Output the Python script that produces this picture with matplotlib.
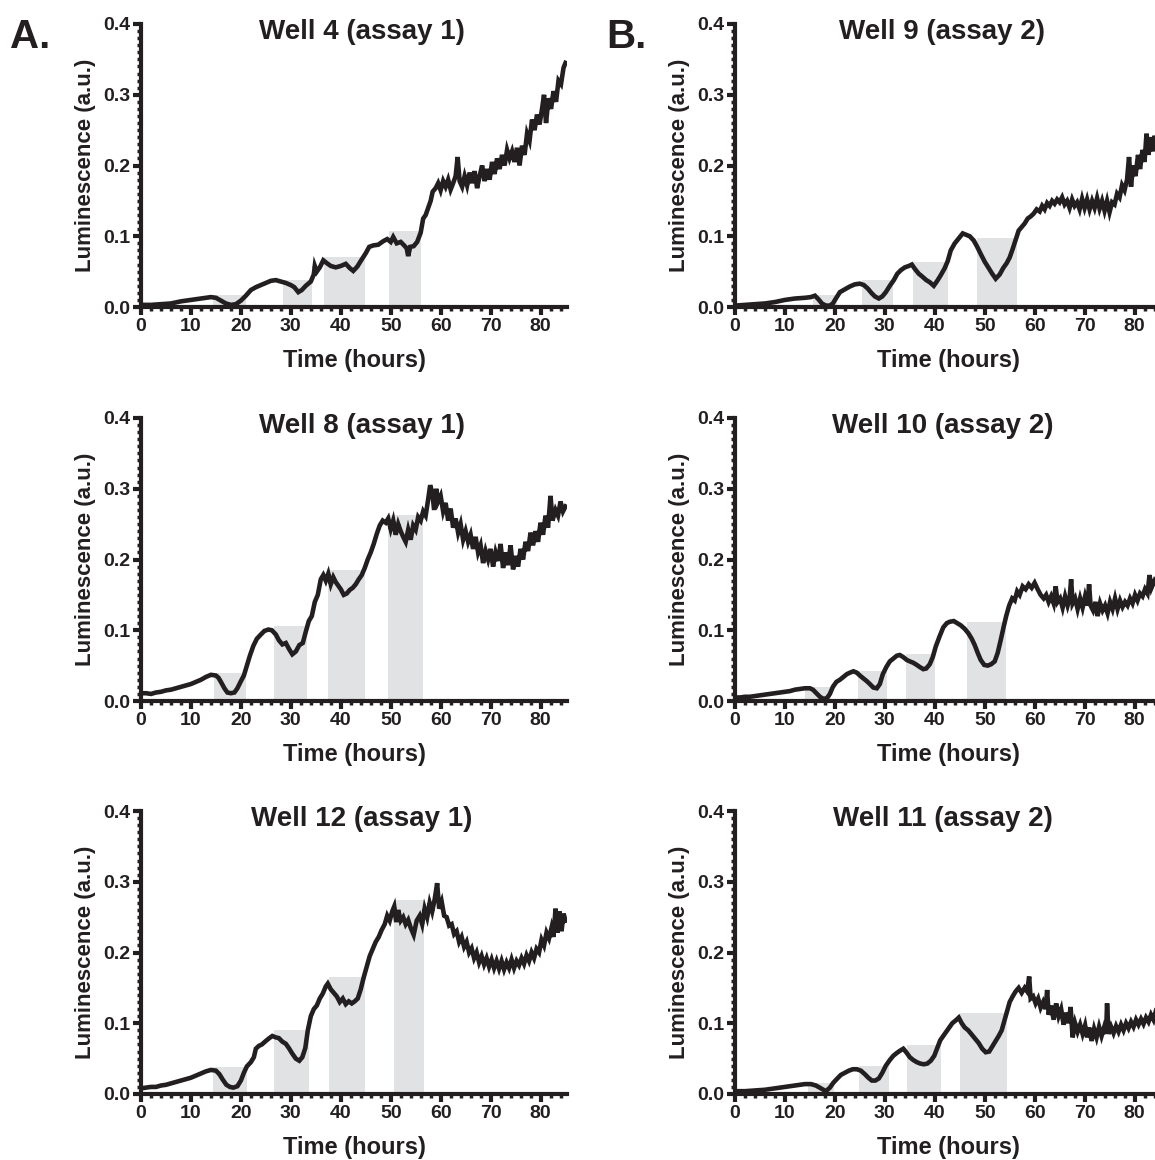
import matplotlib
matplotlib.use("Agg")
import matplotlib.pyplot as plt
from matplotlib.ticker import MultipleLocator, FormatStrFormatter

plt.rcParams['font.family'] = ['Liberation Sans', 'DejaVu Sans']
plt.rcParams['font.weight'] = 'bold'

INK = '#231f20'
GRAY = '#e1e2e4'

# ---------------- data ----------------
w4_t = [0, 2, 4, 6, 8, 10, 12, 14, 15, 16, 17, 18, 19, 20, 21, 22, 23, 24, 25, 26, 27, 28, 29, 30, 30.7, 31.5, 32.2, 33, 34, 34.6, 34.8, 35.2, 35.8, 36.5, 37.2, 38, 39, 40, 41, 41.8, 42.5, 43.3, 44, 45, 45.7, 46.5, 47.5, 48.5, 49.3, 50, 50.5, 51.2, 52, 52.7, 53.2, 53.5, 53.9, 54.6, 55.3, 56, 56.5, 57, 57.5, 58, 58.4, 59, 59.5, 60, 60.5, 61, 61.5, 62, 62.5, 63, 63.4, 63.8, 64.3, 64.8, 65.3, 65.8, 66.3, 66.8, 67.3, 67.8, 68.3, 68.8, 69.3, 69.8, 70.3, 70.8, 71.3, 71.8, 72.3, 72.8, 73.3, 73.8, 74.3, 74.8, 75.3, 75.8, 76.3, 76.8, 77.3, 77.8, 78.3, 78.8, 79.3, 79.8, 80.3, 80.7, 81.1, 81.6, 82.1, 82.6, 83.1, 83.6, 84.1, 84.6, 85]
w4_v = [0.003, 0.003, 0.004, 0.005, 0.008, 0.010, 0.012, 0.014, 0.013, 0.009, 0.005, 0.003, 0.004, 0.009, 0.016, 0.024, 0.028, 0.031, 0.034, 0.037, 0.038, 0.036, 0.034, 0.031, 0.028, 0.021, 0.024, 0.030, 0.036, 0.046, 0.058, 0.050, 0.056, 0.066, 0.062, 0.058, 0.056, 0.058, 0.061, 0.055, 0.051, 0.057, 0.065, 0.076, 0.085, 0.087, 0.088, 0.093, 0.096, 0.092, 0.099, 0.090, 0.092, 0.087, 0.083, 0.072, 0.085, 0.086, 0.092, 0.105, 0.125, 0.130, 0.140, 0.150, 0.163, 0.168, 0.175, 0.165, 0.178, 0.170, 0.180, 0.166, 0.175, 0.185, 0.212, 0.178, 0.170, 0.185, 0.172, 0.190, 0.175, 0.192, 0.168, 0.185, 0.200, 0.178, 0.195, 0.180, 0.205, 0.188, 0.210, 0.195, 0.215, 0.200, 0.222, 0.210, 0.220, 0.205, 0.225, 0.200, 0.228, 0.215, 0.245, 0.235, 0.265, 0.250, 0.272, 0.258, 0.280, 0.300, 0.260, 0.295, 0.280, 0.305, 0.290, 0.320, 0.315, 0.338, 0.345]

w8_t = [0, 1, 2, 3, 4, 5, 6, 7, 8, 9, 10, 11, 12, 13, 14, 15, 15.5, 16, 16.7, 17.3, 18, 18.7, 19.3, 20, 20.6, 21.2, 21.8, 22.5, 23.2, 24, 24.7, 25.5, 26.2, 27, 27.6, 28.3, 29, 29.6, 30.3, 31, 31.7, 32.4, 33, 33.6, 34.2, 34.8, 35.4, 36, 36.5, 37, 37.5, 38, 38.5, 39, 39.5, 40, 40.6, 41.2, 41.8, 42.4, 43, 43.6, 44.2, 44.8, 45.4, 46, 46.6, 47.2, 47.8, 48.4, 49, 49.5, 50, 50.5, 51, 51.5, 52, 52.5, 53, 53.5, 54, 54.5, 55, 55.5, 56, 56.5, 57, 57.5, 57.9, 58.3, 58.7, 59.1, 59.5, 60, 60.5, 61, 61.5, 62, 62.5, 63, 63.5, 64, 64.5, 65, 65.5, 66, 66.5, 67, 67.5, 68, 68.5, 69, 69.5, 70, 70.5, 71, 71.5, 72, 72.5, 73, 73.5, 74, 74.5, 75, 75.5, 76, 76.5, 77, 77.5, 78, 78.5, 79, 79.5, 80, 80.5, 81, 81.5, 82, 82.4, 83, 83.5, 84, 84.5, 85]
w8_v = [0.011, 0.011, 0.010, 0.012, 0.013, 0.015, 0.016, 0.018, 0.020, 0.022, 0.024, 0.027, 0.030, 0.034, 0.037, 0.036, 0.033, 0.027, 0.018, 0.012, 0.011, 0.012, 0.018, 0.028, 0.036, 0.050, 0.064, 0.078, 0.088, 0.094, 0.099, 0.101, 0.100, 0.094, 0.086, 0.080, 0.082, 0.074, 0.066, 0.070, 0.079, 0.082, 0.098, 0.113, 0.120, 0.140, 0.150, 0.172, 0.178, 0.170, 0.180, 0.165, 0.175, 0.168, 0.163, 0.158, 0.150, 0.152, 0.157, 0.160, 0.165, 0.172, 0.178, 0.188, 0.200, 0.210, 0.222, 0.236, 0.248, 0.255, 0.252, 0.258, 0.243, 0.255, 0.235, 0.250, 0.240, 0.232, 0.225, 0.242, 0.228, 0.248, 0.242, 0.260, 0.255, 0.268, 0.262, 0.285, 0.305, 0.295, 0.270, 0.300, 0.282, 0.290, 0.268, 0.280, 0.255, 0.272, 0.245, 0.258, 0.238, 0.250, 0.228, 0.240, 0.225, 0.235, 0.215, 0.232, 0.210, 0.220, 0.195, 0.212, 0.200, 0.215, 0.190, 0.210, 0.198, 0.222, 0.188, 0.210, 0.192, 0.220, 0.186, 0.205, 0.190, 0.215, 0.200, 0.225, 0.212, 0.238, 0.220, 0.240, 0.225, 0.252, 0.235, 0.262, 0.245, 0.290, 0.255, 0.270, 0.262, 0.282, 0.268, 0.275]

w12_t = [0, 1, 2, 3, 4, 5, 6, 7, 8, 9, 10, 11, 12, 13, 14, 15, 15.7, 16.4, 17.1, 17.8, 18.5, 19.3, 20, 20.6, 21.2, 22, 22.6, 23, 23.6, 24.2, 25, 25.7, 26.3, 27, 27.6, 28.3, 29, 29.6, 30.3, 31, 31.7, 32.3, 32.9, 33.4, 34, 34.6, 35.2, 35.8, 36.4, 37, 37.4, 38, 38.6, 39.2, 39.8, 40.4, 41, 41.6, 42.2, 42.8, 43.4, 44, 44.6, 45.2, 45.8, 46.4, 47, 47.6, 48.2, 48.8, 49.3, 49.8, 50.3, 50.7, 51.1, 51.5, 52, 52.5, 53, 53.5, 54, 54.6, 55.2, 55.8, 56.3, 56.8, 57.3, 57.8, 58.3, 58.8, 59.3, 59.7, 60.2, 60.7, 61.2, 61.7, 62.2, 62.7, 63.2, 63.7, 64.2, 64.7, 65.2, 65.7, 66.2, 66.7, 67.2, 67.7, 68.2, 68.7, 69.2, 69.7, 70.2, 70.7, 71.2, 71.7, 72.2, 72.7, 73.2, 73.7, 74.2, 74.7, 75.2, 75.7, 76.2, 76.7, 77.2, 77.7, 78.2, 78.7, 79.2, 79.7, 80.2, 80.7, 81.2, 81.7, 82.2, 82.6, 83, 83.4, 83.8, 84.2, 84.6, 85]
w12_v = [0.008, 0.009, 0.010, 0.010, 0.012, 0.013, 0.015, 0.017, 0.019, 0.021, 0.023, 0.026, 0.029, 0.032, 0.034, 0.033, 0.028, 0.020, 0.013, 0.010, 0.009, 0.011, 0.019, 0.030, 0.039, 0.045, 0.052, 0.064, 0.068, 0.070, 0.075, 0.079, 0.082, 0.080, 0.079, 0.074, 0.071, 0.065, 0.057, 0.050, 0.047, 0.052, 0.065, 0.090, 0.110, 0.120, 0.125, 0.135, 0.142, 0.152, 0.156, 0.148, 0.143, 0.138, 0.130, 0.135, 0.127, 0.131, 0.128, 0.131, 0.135, 0.148, 0.165, 0.180, 0.195, 0.205, 0.215, 0.222, 0.232, 0.240, 0.252, 0.245, 0.258, 0.265, 0.243, 0.260, 0.245, 0.250, 0.240, 0.246, 0.235, 0.225, 0.245, 0.252, 0.240, 0.262, 0.250, 0.270, 0.258, 0.275, 0.298, 0.262, 0.272, 0.252, 0.250, 0.238, 0.240, 0.226, 0.230, 0.215, 0.222, 0.208, 0.215, 0.200, 0.206, 0.192, 0.200, 0.186, 0.195, 0.183, 0.192, 0.180, 0.190, 0.178, 0.188, 0.177, 0.188, 0.176, 0.186, 0.178, 0.190, 0.178, 0.188, 0.182, 0.192, 0.184, 0.196, 0.188, 0.200, 0.192, 0.205, 0.200, 0.218, 0.210, 0.228, 0.220, 0.235, 0.222, 0.262, 0.228, 0.258, 0.230, 0.255, 0.245]

w9_t = [0, 2, 4, 6, 8, 10, 12, 14, 15.2, 16, 16.7, 17.4, 18.2, 19, 19.6, 20.2, 21, 22, 23, 24, 25, 25.8, 26.6, 27.3, 28, 28.8, 29.5, 30.2, 31, 31.8, 32.5, 33.2, 34, 34.8, 35.4, 36, 36.8, 37.5, 38.3, 39, 39.8, 40.5, 41.2, 42, 42.6, 43.2, 44, 44.8, 45.6, 46.3, 47, 47.8, 48.5, 49.2, 50, 50.8, 51.5, 52.2, 53, 53.7, 54.4, 55, 55.6, 56.2, 56.8, 57.4, 58, 58.6, 59.2, 59.8, 60.4, 61, 61.5, 62, 62.5, 63, 63.5, 64, 64.5, 65, 65.5, 66, 66.5, 67, 67.5, 68, 68.5, 69, 69.5, 70, 70.5, 71, 71.5, 72, 72.5, 73, 73.5, 74, 74.5, 75, 75.5, 76, 76.5, 77, 77.5, 78, 78.5, 78.9, 79.3, 79.7, 80.2, 80.7, 81.1, 81.6, 82, 82.4, 82.8, 83.2, 83.6, 84, 84.5, 85]
w9_v = [0.002, 0.003, 0.004, 0.005, 0.007, 0.010, 0.012, 0.013, 0.014, 0.016, 0.011, 0.005, 0.002, 0.002, 0.005, 0.012, 0.021, 0.025, 0.029, 0.032, 0.033, 0.031, 0.026, 0.020, 0.015, 0.012, 0.015, 0.021, 0.030, 0.038, 0.047, 0.052, 0.056, 0.058, 0.060, 0.054, 0.047, 0.043, 0.038, 0.035, 0.030, 0.037, 0.045, 0.055, 0.065, 0.080, 0.090, 0.097, 0.104, 0.102, 0.100, 0.094, 0.085, 0.075, 0.064, 0.055, 0.047, 0.040, 0.046, 0.055, 0.062, 0.070, 0.082, 0.095, 0.108, 0.113, 0.118, 0.125, 0.128, 0.132, 0.138, 0.135, 0.143, 0.138, 0.147, 0.143, 0.150, 0.146, 0.152, 0.148, 0.155, 0.145, 0.150, 0.140, 0.152, 0.143, 0.148, 0.138, 0.153, 0.140, 0.152, 0.138, 0.150, 0.140, 0.154, 0.139, 0.150, 0.136, 0.150, 0.134, 0.148, 0.145, 0.160, 0.155, 0.172, 0.165, 0.180, 0.212, 0.170, 0.200, 0.185, 0.215, 0.195, 0.222, 0.205, 0.245, 0.215, 0.240, 0.220, 0.242, 0.228, 0.245]

w10_t = [0, 1, 2, 3, 4, 5, 6, 7, 8, 9, 10, 11, 12, 13, 14, 15, 15.6, 16.3, 17, 17.7, 18.4, 19, 19.6, 20.3, 21, 21.7, 22.4, 23, 23.7, 24.4, 25, 25.7, 26.4, 27, 27.7, 28.4, 29, 29.6, 30.3, 31, 31.7, 32.4, 33, 33.7, 34.4, 35, 35.7, 36.4, 37, 37.7, 38.3, 39, 39.6, 40.2, 41, 41.7, 42.4, 43, 43.8, 44.5, 45.2, 46, 46.7, 47.4, 48, 48.6, 49.2, 49.9, 50.6, 51.3, 52, 52.6, 53.2, 53.8, 54.3, 54.9, 55.5, 56, 56.5, 57, 57.6, 58.2, 58.8, 59.4, 60, 60.6, 61.2, 61.8, 62.3, 62.8, 63.3, 63.8, 64.2, 64.6, 65.1, 65.6, 66.1, 66.6, 67, 67.3, 67.6, 68.1, 68.6, 69.1, 69.6, 70.1, 70.6, 70.9, 71.2, 71.7, 72.2, 72.6, 73.1, 73.6, 74.1, 74.6, 75.1, 75.6, 76.1, 76.6, 77.1, 77.6, 78.1, 78.6, 79.1, 79.6, 80.1, 80.6, 81.1, 81.6, 82.1, 82.6, 83, 83.4, 84, 84.5, 85]
w10_v = [0.005, 0.005, 0.006, 0.006, 0.007, 0.008, 0.009, 0.010, 0.011, 0.012, 0.013, 0.014, 0.016, 0.017, 0.018, 0.018, 0.016, 0.011, 0.006, 0.003, 0.004, 0.010, 0.020, 0.027, 0.030, 0.034, 0.038, 0.040, 0.042, 0.040, 0.036, 0.032, 0.028, 0.024, 0.019, 0.018, 0.024, 0.038, 0.048, 0.056, 0.060, 0.064, 0.065, 0.062, 0.058, 0.056, 0.054, 0.051, 0.048, 0.045, 0.046, 0.052, 0.062, 0.077, 0.092, 0.104, 0.110, 0.112, 0.113, 0.110, 0.107, 0.102, 0.096, 0.088, 0.079, 0.068, 0.058, 0.051, 0.050, 0.052, 0.056, 0.068, 0.086, 0.105, 0.120, 0.135, 0.145, 0.142, 0.155, 0.150, 0.162, 0.158, 0.165, 0.160, 0.167, 0.158, 0.150, 0.145, 0.150, 0.140, 0.148, 0.138, 0.162, 0.140, 0.145, 0.132, 0.148, 0.135, 0.145, 0.172, 0.138, 0.145, 0.130, 0.145, 0.132, 0.148, 0.135, 0.165, 0.135, 0.128, 0.140, 0.120, 0.138, 0.128, 0.135, 0.124, 0.140, 0.130, 0.145, 0.130, 0.142, 0.133, 0.140, 0.135, 0.145, 0.138, 0.150, 0.142, 0.152, 0.148, 0.158, 0.152, 0.178, 0.160, 0.170, 0.165, 0.175]

w11_t = [0, 2, 4, 6, 8, 10, 12, 14, 15.2, 16.2, 17.2, 18.2, 19, 19.7, 20.5, 21.2, 22, 22.8, 23.6, 24.4, 25.2, 26, 26.7, 27.4, 28.1, 28.8, 29.5, 30.2, 31, 31.7, 32.4, 33, 33.7, 34.4, 35, 35.7, 36.4, 37.1, 37.8, 38.5, 39.2, 39.9, 40.5, 41.1, 41.7, 42.3, 42.9, 43.5, 44.2, 44.8, 45.4, 46, 46.7, 47.4, 48.1, 48.8, 49.5, 50.2, 50.9, 51.6, 52.2, 52.8, 53.4, 54, 54.5, 55, 55.6, 56.2, 56.8, 57.4, 58, 58.5, 58.9, 59.2, 59.7, 60.2, 60.7, 61.2, 61.7, 62.2, 62.5, 62.8, 63.3, 63.8, 64.3, 64.8, 65.3, 65.8, 66.3, 66.8, 67.2, 67.6, 68.1, 68.6, 69.1, 69.6, 70.1, 70.5, 70.9, 71.4, 71.9, 72.4, 72.9, 73.4, 73.9, 74.3, 74.5, 74.8, 75.3, 75.8, 76.3, 76.8, 77.3, 77.8, 78.3, 78.8, 79.3, 79.8, 80.3, 80.8, 81.3, 81.8, 82.3, 82.8, 83.3, 83.8, 84.3, 85]
w11_v = [0.004, 0.004, 0.005, 0.006, 0.008, 0.010, 0.012, 0.014, 0.014, 0.012, 0.008, 0.004, 0.009, 0.016, 0.022, 0.027, 0.030, 0.033, 0.035, 0.035, 0.033, 0.028, 0.023, 0.019, 0.019, 0.022, 0.030, 0.040, 0.048, 0.054, 0.058, 0.061, 0.064, 0.058, 0.052, 0.048, 0.045, 0.043, 0.042, 0.043, 0.047, 0.054, 0.065, 0.076, 0.082, 0.088, 0.094, 0.100, 0.104, 0.108, 0.100, 0.094, 0.090, 0.084, 0.078, 0.072, 0.064, 0.059, 0.060, 0.068, 0.075, 0.082, 0.090, 0.105, 0.118, 0.130, 0.138, 0.145, 0.150, 0.143, 0.150, 0.145, 0.166, 0.135, 0.138, 0.128, 0.135, 0.122, 0.130, 0.120, 0.147, 0.112, 0.125, 0.105, 0.128, 0.110, 0.120, 0.098, 0.115, 0.100, 0.123, 0.080, 0.100, 0.088, 0.098, 0.085, 0.097, 0.080, 0.094, 0.075, 0.092, 0.080, 0.095, 0.082, 0.094, 0.085, 0.128, 0.085, 0.095, 0.086, 0.096, 0.088, 0.098, 0.090, 0.100, 0.093, 0.102, 0.095, 0.105, 0.098, 0.106, 0.099, 0.108, 0.102, 0.112, 0.105, 0.118, 0.112]

# shaded periods: start, end, height
w4_bar_start = [14.4, 28.4, 36.7, 49.6]
w4_bar_end = [21.0, 34.3, 44.8, 56.0]
w4_bar_top = [0.017, 0.038, 0.071, 0.107]
w8_bar_start = [14.6, 26.7, 37.4, 49.5]
w8_bar_end = [21.0, 33.3, 44.8, 56.5]
w8_bar_top = [0.039, 0.106, 0.185, 0.263]
w12_bar_start = [14.5, 26.7, 37.7, 50.7]
w12_bar_end = [21.3, 33.7, 44.9, 56.7]
w12_bar_top = [0.038, 0.091, 0.166, 0.274]
w9_bar_start = [15.6, 25.5, 35.6, 48.5]
w9_bar_end = [20.4, 31.7, 42.7, 56.4]
w9_bar_top = [0.0175, 0.038, 0.063, 0.098]
w10_bar_start = [14.0, 24.7, 34.2, 46.4]
w10_bar_end = [19.2, 30.5, 40.0, 54.2]
w10_bar_top = [0.020, 0.042, 0.067, 0.111]
w11_bar_start = [14.7, 24.9, 34.4, 45.0]
w11_bar_end = [19.9, 30.9, 41.2, 54.5]
w11_bar_top = [0.015, 0.040, 0.069, 0.114]

titles = ["Well 4 (assay 1)", "Well 9 (assay 2)",
          "Well 8 (assay 1)", "Well 10 (assay 2)",
          "Well 12 (assay 1)", "Well 11 (assay 2)"]
x_ticks = [0, 10, 20, 30, 40, 50, 60, 70, 80]
y_ticks = [0.0, 0.1, 0.2, 0.3, 0.4]
x_label = "Time (hours)"
y_label = "Luminescence (a.u.)"
panel_letters = ["A.", "B."]

panels = [
    (w4_t, w4_v, w4_bar_start, w4_bar_end, w4_bar_top),
    (w9_t, w9_v, w9_bar_start, w9_bar_end, w9_bar_top),
    (w8_t, w8_v, w8_bar_start, w8_bar_end, w8_bar_top),
    (w10_t, w10_v, w10_bar_start, w10_bar_end, w10_bar_top),
    (w12_t, w12_v, w12_bar_start, w12_bar_end, w12_bar_top),
    (w11_t, w11_v, w11_bar_start, w11_bar_end, w11_bar_top),
]

# ---------------- layout ----------------
W, H = 1155, 1160
fig = plt.figure(figsize=(W / 100, H / 100), dpi=100)

col_left_px = [141, 735]
axis_w_px = 426
row_bottom_px = [307, 701, 1094]
axis_h_px = 283

for i, (t, v, bs, be, bt) in enumerate(panels):
    r, c = divmod(i, 2)
    left = col_left_px[c] / W
    bottom = 1 - row_bottom_px[r] / H
    ax = fig.add_axes([left, bottom, axis_w_px / W, axis_h_px / H])
    widths = [e - s for s, e in zip(bs, be)]
    ax.bar(bs, bt, width=widths, align='edge', color=GRAY, linewidth=0, zorder=1)
    ax.plot(t, v, color=INK, linewidth=3.3, solid_joinstyle='miter', zorder=3)
    ax.set_xlim(0, 85.3)
    ax.set_ylim(0, 0.4)
    for s in ['top', 'right']:
        ax.spines[s].set_visible(False)
    for s in ['left', 'bottom']:
        ax.spines[s].set_linewidth(3.0)
        ax.spines[s].set_color(INK)
        ax.spines[s].set_zorder(5)
    ax.set_xticks(x_ticks)
    ax.set_yticks(y_ticks)
    ax.xaxis.set_minor_locator(MultipleLocator(2))
    ax.yaxis.set_minor_locator(MultipleLocator(0.01))
    ax.yaxis.set_major_formatter(FormatStrFormatter('%.1f'))
    ax.tick_params(which='major', direction='out', length=6, width=3, color=INK,
                   labelsize=14, labelcolor=INK, pad=2)
    ax.tick_params(which='minor', direction='out', length=3, width=2.5, color=INK)
    for lab in ax.get_xticklabels() + ax.get_yticklabels():
        lab.set_fontweight('bold')
    ax.set_xlabel(x_label, fontsize=17, fontweight='bold', color=INK)
    ax.set_ylabel(y_label, fontsize=16, fontweight='bold', color=INK)
    ax.xaxis.set_label_coords(0.5, -0.15)
    ax.yaxis.set_label_coords(-0.105, 0.5)
    tx = 0.518 if c == 0 else 0.487
    ax.text(tx, 0.97, titles[i], transform=ax.transAxes, ha='center', va='center',
            fontsize=20, fontweight='bold', color=INK)

fig.text(10 / W, 1 - 37 / H, panel_letters[0], fontsize=29, fontweight='bold',
         color=INK, ha='left', va='center')
fig.text(606 / W, 1 - 37 / H, panel_letters[1], fontsize=29, fontweight='bold',
         color=INK, ha='left', va='center')

fig.savefig("out.png", dpi=100)
